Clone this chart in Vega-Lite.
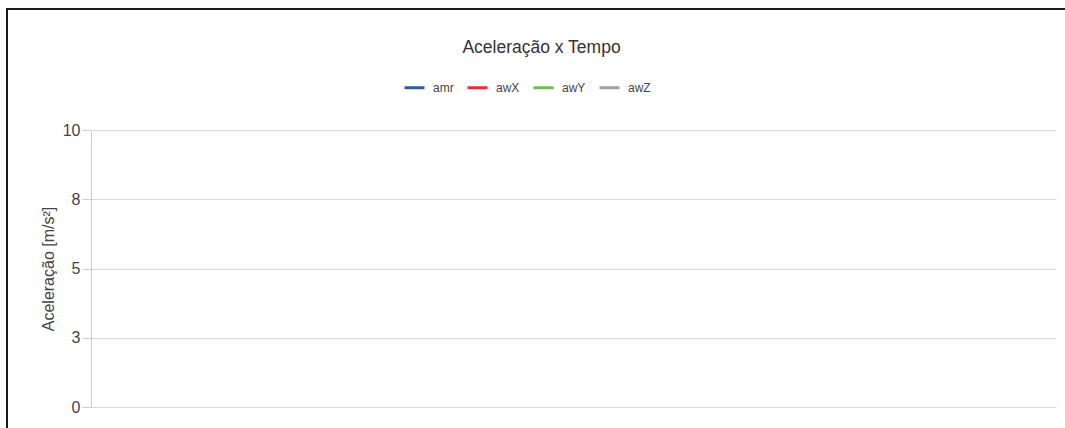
{
  "$schema": "https://vega.github.io/schema/vega-lite/v6.json",
  "autosize": "none",
  "width": 1080,
  "height": 440,
  "padding": {"left": 7, "top": 9, "right": 0, "bottom": 0},
  "background": "#ffffff",
  "title": {
    "text": "Aceleração x Tempo",
    "anchor": "middle",
    "frame": "group",
    "font": "Liberation Sans",
    "fontSize": 17.5,
    "fontWeight": "normal",
    "color": "#333333",
    "baseline": "alphabetic",
    "offset": -61,
    "dx": -5.5
  },
  "data": {
    "values": [
      {"serie": "amr", "t": null, "a": null},
      {"serie": "awX", "t": null, "a": null},
      {"serie": "awY", "t": null, "a": null},
      {"serie": "awZ", "t": null, "a": null}
    ]
  },
  "mark": {"type": "line", "strokeWidth": 2},
  "encoding": {
    "x": {
      "field": "t",
      "type": "quantitative",
      "scale": {"domain": [0, 10], "range": [84, 1049], "nice": false, "zero": false},
      "axis": null
    },
    "y": {
      "field": "a",
      "type": "quantitative",
      "title": "Aceleração [m/s²]",
      "scale": {"domain": [0, 10], "range": [398, 121], "nice": false, "zero": false},
      "axis": {
        "values": [0, 2.5, 5, 7.5, 10],
        "format": ".0f",
        "offset": -84,
        "grid": true,
        "gridColor": "#d9d9d9",
        "gridWidth": 1,
        "domainColor": "#cccccc",
        "domainWidth": 1,
        "tickColor": "#cccccc",
        "tickSize": 9,
        "labelPadding": 2,
        "labelFont": "Liberation Sans",
        "labelFontSize": 16,
        "labelColor": "#444444",
        "titleFont": "Liberation Sans",
        "titleFontSize": 16,
        "titleFontWeight": "normal",
        "titleColor": "#444444",
        "titlePadding": 6
      }
    },
    "color": {
      "field": "serie",
      "type": "nominal",
      "scale": {
        "domain": ["amr", "awX", "awY", "awZ"],
        "range": ["#2a5caa", "#ee2e2e", "#6dbf4b", "#a0a0a0"]
      },
      "legend": {
        "title": null,
        "orient": "none",
        "direction": "horizontal",
        "legendX": 396,
        "legendY": 67,
        "symbolType": "stroke",
        "symbolSize": 400,
        "symbolStrokeWidth": 3,
        "labelFont": "Liberation Sans",
        "labelFontSize": 12,
        "labelColor": "#444444",
        "labelOffset": 7,
        "columnPadding": 7,
        "padding": 0
      }
    }
  },
  "config": {
    "view": {
      "stroke": "#1a1a1a",
      "strokeWidth": 2,
      "strokeDash": [1081, 1519, 441, 1]
    }
  }
}
